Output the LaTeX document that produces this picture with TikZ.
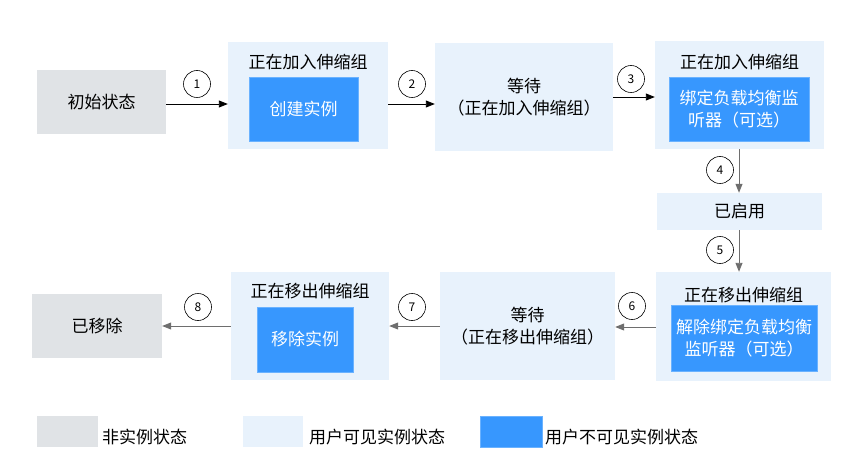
\documentclass[tikz,border=0pt]{standalone}
\usepackage{fontspec}
\setmainfont{Noto Sans CJK SC}
\usetikzlibrary{arrows.meta}
\definecolor{grayst}{HTML}{E0E3E6}
\definecolor{lightst}{HTML}{E8F2FC}
\definecolor{bluest}{HTML}{3797FE}
\definecolor{blueedge}{HTML}{6AB2FF}
\definecolor{arrgray}{HTML}{6E6E6E}
\tikzset{
  graybox/.style={fill=grayst, draw=none, inner sep=0pt, font=\fontsize{17}{20}\selectfont},
  lightbox/.style={fill=lightst, draw=none, inner sep=0pt, align=center, font=\fontsize{17}{22}\selectfont},
  bluebox/.style={fill=bluest, draw=blueedge, line width=0.6pt, inner sep=0pt, align=center, text=white, font=\fontsize{17}{22}\selectfont},
  titletext/.style={inner sep=0pt, font=\fontsize{17}{20}\selectfont},
  numcirc/.style={circle, draw=black, line width=0.6pt, minimum size=27pt, inner sep=0pt, font=\fontsize{12}{14}\selectfont},
  blackarr/.style={draw=black, line width=0.9pt, -{Triangle[length=9pt,width=7pt]}},
  grayarr/.style={draw=arrgray, line width=0.9pt, -{Triangle[length=9pt,width=7pt]}},
  legtext/.style={anchor=west, inner sep=0pt, font=\fontsize{17}{20}\selectfont}
}
\begin{document}
\begin{tikzpicture}[x=1pt,y=-1pt]
\useasboundingbox (0,0) rectangle (864,473);
% row 1
\node[graybox, minimum width=129pt, minimum height=64pt] (init) at (101.5,102) {初始状态};
\node[lightbox, minimum width=160pt, minimum height=107pt] (g1) at (308,95.5) {};
\node[titletext] (g1t) at (308,62) {正在加入伸缩组};
\node[bluebox, minimum width=109pt, minimum height=64pt] (b1) at (303.5,109) {创建实例};
\node[lightbox, minimum width=178pt, minimum height=108pt] (w1) at (524,97) {等待\\（正在加入伸缩组）};
\node[lightbox, minimum width=169pt, minimum height=108pt] (g3) at (739.5,95) {};
\node[titletext] (g3t) at (739.5,62) {正在加入伸缩组};
\node[bluebox, minimum width=140pt, minimum height=64pt] (b3) at (739,109) {绑定负载均衡监\\听器（可选）};
% middle
\node[lightbox, minimum width=165pt, minimum height=37pt] (en) at (739.5,211.5) {已启用};
% row 2
\node[lightbox, minimum width=175pt, minimum height=109pt] (g6) at (743.5,326.5) {};
\node[titletext] (g6t) at (743.5,295) {正在移出伸缩组};
\node[bluebox, minimum width=146pt, minimum height=66pt] (b6) at (744,338) {解除绑定负载均衡\\监听器（可选）};
\node[lightbox, minimum width=175pt, minimum height=108pt] (w2) at (527.5,326) {等待\\（正在移出伸缩组）};
\node[lightbox, minimum width=158pt, minimum height=108pt] (g8) at (310,326) {};
\node[titletext] (g8t) at (310,291) {正在移出伸缩组};
\node[bluebox, minimum width=96pt, minimum height=65pt] (b8) at (305,339.5) {移除实例};
\node[graybox, minimum width=130pt, minimum height=64pt] (rm) at (97,326) {已移除};
% arrows
\coordinate (a1s) at (166,104);
\draw[blackarr] (init.east |- a1s) -- (g1.west |- a1s);
\draw[blackarr] (g1.east |- a1s) -- (w1.west |- a1s);
\draw[blackarr] (w1.east |- 0,97) -- (g3.west |- 0,97);
\draw[grayarr] (g3.south -| 739,0) -- (en.north -| 739,0);
\draw[grayarr] (en.south -| 739,0) -- (g6.north -| 739,0);
\draw[grayarr] (g6.west |- 0,327) -- (w2.east |- 0,327);
\draw[grayarr] (w2.west |- 0,326) -- (g8.east |- 0,326);
\draw[grayarr] (g8.west |- 0,326) -- (rm.east |- 0,326);
% number circles
\node[numcirc] (c1) at (197,84) {1};
\node[numcirc] (c2) at (412,84) {2};
\node[numcirc] (c3) at (631,79) {3};
\node[numcirc] (c4) at (720,170) {4};
\node[numcirc] (c5) at (720,250) {5};
\node[numcirc] (c6) at (632,306) {6};
\node[numcirc] (c7) at (412,307) {7};
\node[numcirc] (c8) at (198,307) {8};
% legend
\node[graybox, minimum width=61pt, minimum height=31pt] (l1) at (67.5,431.5) {};
\node[legtext] (l1t) at (102,437) {非实例状态};
\node[lightbox, minimum width=60pt, minimum height=31pt] (l2) at (273,431.5) {};
\node[legtext] (l2t) at (309,437) {用户可见实例状态};
\node[fill=bluest, draw=blueedge, line width=0.6pt, inner sep=0pt, minimum width=62pt, minimum height=31pt] (l3) at (511,431.5) {};
\node[legtext] (l3t) at (545,437) {用户不可见实例状态};
\end{tikzpicture}
\end{document}
